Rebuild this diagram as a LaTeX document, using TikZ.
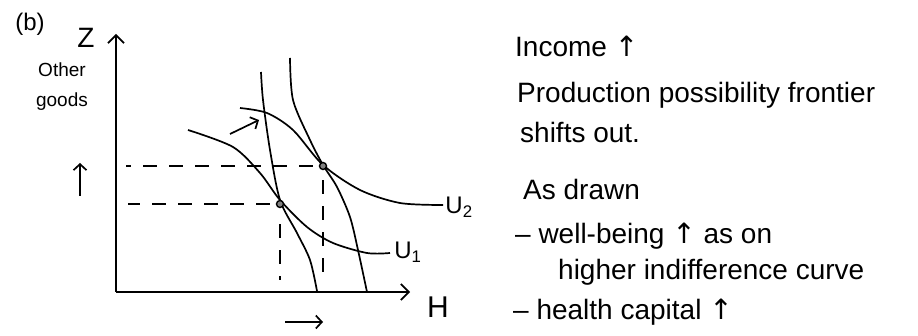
\documentclass[tikz,border=0pt]{standalone}
\usepackage{fontspec}
\setmainfont{Liberation Sans}
\newfontfamily\arrowfont{DejaVu Sans}
\newcommand{\uparr}{{\arrowfont ↑}}
\usetikzlibrary{positioning,arrows.meta}

\begin{document}
\begin{tikzpicture}[
  x=1pt, y=-1pt,
  font=\fontsize{24}{28}\selectfont,
  >={Straight Barb[length=8pt,width=16pt]},
  curve/.style={line width=1.7pt},
  shiftarrow/.style={line width=1.7pt, -{Straight Barb[length=6pt,width=13pt]}},
  guide/.style={line width=1.7pt, dash pattern=on 14pt off 12pt},
  note/.style={anchor=base west, inner sep=0pt, font=\fontsize{28}{32}\selectfont},
  dot/.style={circle, draw, line width=1.4pt, fill=gray, inner sep=0pt, minimum size=7pt}
]
\useasboundingbox (0,0) rectangle (918,336);

% axes
\coordinate (origin) at (116,292);
\coordinate (ytop) at (116,34);
\coordinate (xend) at (410,292);
\draw[curve,->] (origin) -- (ytop);
\draw[curve,->] (origin) -- (xend);

\node (partlabel) at (30,24) {(b)};
\node[font=\fontsize{28}{32}\selectfont] (zlabel) at (86,38) {Z};
\node[align=center, font=\fontsize{19}{30}\selectfont] (zname) at (62,87) {Other\\goods};
\node[font=\fontsize{30}{34}\selectfont] (hlabel) at (438,307) {H};

% production possibility frontiers
\draw[curve] plot[smooth] coordinates {(261,72) (263,100) (270,150) (280,200) (297,233) (310,260) (317,291)};
\draw[curve] plot[smooth] coordinates {(290,58) (293,100) (310,140) (323,165) (337,187) (350,217) (358,250) (367,292)};

% indifference curves
\draw[curve] plot[smooth] coordinates {(188,130) (233,147) (260,173) (280,200) (307,227) (333,243) (367,253) (390,253)};
\draw[curve] plot[smooth] coordinates {(240,108) (267,113) (293,130) (323,165) (360,190) (400,203) (443,205)};
\node (uone) at (408,252) {U\textsubscript{1}};
\node (utwo) at (459,207) {U\textsubscript{2}};

% tangency points
\node[dot] (lowpt) at (280,204) {};
\node[dot] (highpt) at (323,166) {};
\draw[guide] ([xshift=-6pt]lowpt.west) -- ([xshift=12pt]origin |- lowpt);
\draw[guide] ([xshift=-6pt]highpt.west) -- ([xshift=10pt]origin |- highpt);
\draw[guide] ([yshift=-16pt]lowpt.south) -- ([yshift=12pt]lowpt |- origin);
\draw[guide] ([yshift=-10pt]highpt.south) -- ([yshift=12pt]highpt |- origin);

% shift marks
\coordinate (zrise0) at (80,196);
\coordinate (zrise1) at (80,163);
\draw[shiftarrow] (zrise0) -- (zrise1);
\coordinate (hrise0) at (285,322);
\coordinate (hrise1) at (323,322);
\draw[shiftarrow] (hrise0) -- (hrise1);
\coordinate (shift0) at (230,134);
\coordinate (shift1) at (259,120);
\draw[shiftarrow] (shift0) -- (shift1);

% notes
\node[note] (income) at (515,57) {Income \uparr};
\node[note] (ppf) at (517,103) {Production possibility frontier};
\node[note] (shifts) at (520,143) {shifts out.};
\node[note] (drawn) at (523,200) {As drawn};
\node[note] (wellbeing) at (515,244) {– well-being \uparr{} as on};
\node[note] (higher) at (558,280) {higher indifference curve};
\node[note] (health) at (513,320) {– health capital \uparr};
\end{tikzpicture}
\end{document}
